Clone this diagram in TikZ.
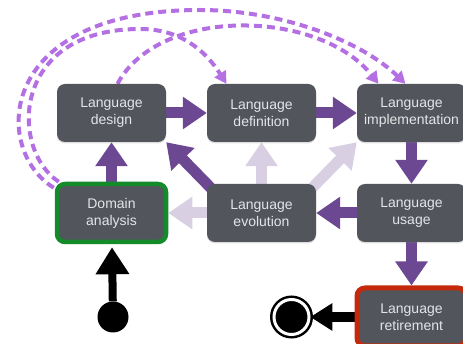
\documentclass[tikz,border=0pt]{standalone}
\usepackage{fontspec}
\setmainfont{Liberation Sans}
\usetikzlibrary{arrows.meta,calc,backgrounds,shadows}
\definecolor{BoxGray}{RGB}{82,85,91}
\definecolor{BoxText}{RGB}{228,229,232}
\definecolor{FlowPurple}{RGB}{108,72,147}
\definecolor{FadePurple}{RGB}{216,208,226}
\definecolor{DashPurple}{RGB}{180,111,227}
\definecolor{StartGreen}{RGB}{20,138,42}
\definecolor{EndRed}{RGB}{196,41,11}

\begin{document}
\begin{tikzpicture}[x=1pt,y=-1pt,
    stage/.style={rectangle,rounded corners=8pt,fill=BoxGray,text=BoxText,
      minimum width=109pt,minimum height=58pt,align=center,inner sep=2pt,
      font=\fontsize{14}{17}\selectfont,
      drop shadow={shadow xshift=0pt,shadow yshift=-1.5pt,opacity=.25}},
    flow/.style={line width=11pt,FlowPurple,-{Triangle[length=24pt,width=31pt]}},
    fade/.style={flow,FadePurple},
    feedback/.style={line width=4pt,DashPurple,dash pattern=on 8pt off 5pt,
      -{Triangle[length=12pt,width=13pt]}},
    startdot/.style={circle,fill=black,minimum size=31pt,inner sep=0pt},
    enddot/.style={circle,fill=black,draw=black,double=white,double distance=3pt,
      line width=2.5pt,minimum size=35pt,inner sep=0pt},
    begin/.style={line width=8pt,black,-{Triangle[length=27pt,width=32pt]}},
    finish/.style={line width=10pt,black,-{Triangle[length=22pt,width=26pt]}}]
  \useasboundingbox (0,0) rectangle (463,344);

  \node[stage] (design) at (111.5,113) {Language\\design};
  \node[stage] (definition) at (261.5,113) {Language\\definition};
  \node[stage] (implementation) at (411.5,113) {Language\\implementation};
  \node[stage,draw=StartGreen,line width=4.5pt] (analysis) at (111.5,213) {Domain\\analysis};
  \node[stage] (evolution) at (261.5,213) {Language\\evolution};
  \node[stage] (usage) at (411.5,213) {Language\\usage};
  \node[stage,draw=EndRed,line width=5pt] (retirement) at (411.5,317) {Language\\retirement};
  \node[startdot] (start) at (113,317) {};
  \node[enddot] (stop) at (291.5,317) {};

  \begin{pgfonlayer}{background}
    % main life cycle
    \draw[flow] (design) -- (definition);
    \draw[flow] (definition) -- (implementation);
    \draw[flow] (implementation) -- (usage);
    \draw[flow] (usage) -- (evolution);
    \draw[flow] (usage) -- (retirement);
    \draw[flow] (analysis) -- (design);
    \draw[flow,shorten <=-6pt] (evolution.north west) -- (design.south east);
    % evolution paths
    \draw[fade] (evolution) -- (definition);
    \draw[fade] (evolution) -- (analysis);
    \draw[fade,shorten <=-6pt] (evolution.north east) -- (implementation.south west);
    \draw[begin,shorten >=3pt] (start) -- (analysis);
    \draw[finish] (retirement) -- (stop);
    % feedback
    \coordinate (outerTop) at (200,10);
    \coordinate (innerTop) at (140,29);
    \draw[feedback] ($(analysis.north west)+(-1,6)$) .. controls (-8,150) and (-5,10) .. (outerTop)
      .. controls (280,10) and (360,40) .. ($(implementation.north)+(-6,0)$);
    \draw[feedback] ($(analysis.north west)+(4,0)$) .. controls (10,150) and (10,29) .. (innerTop)
      .. controls (180,29) and (205,50) .. ($(definition.north)+(-35,0)$);
    \draw[feedback] ($(design.north)+(6,0)$) .. controls (160,5) and (320,10)
      .. ($(implementation.north)+(-33,0)$);
  \end{pgfonlayer}
\end{tikzpicture}
\end{document}
